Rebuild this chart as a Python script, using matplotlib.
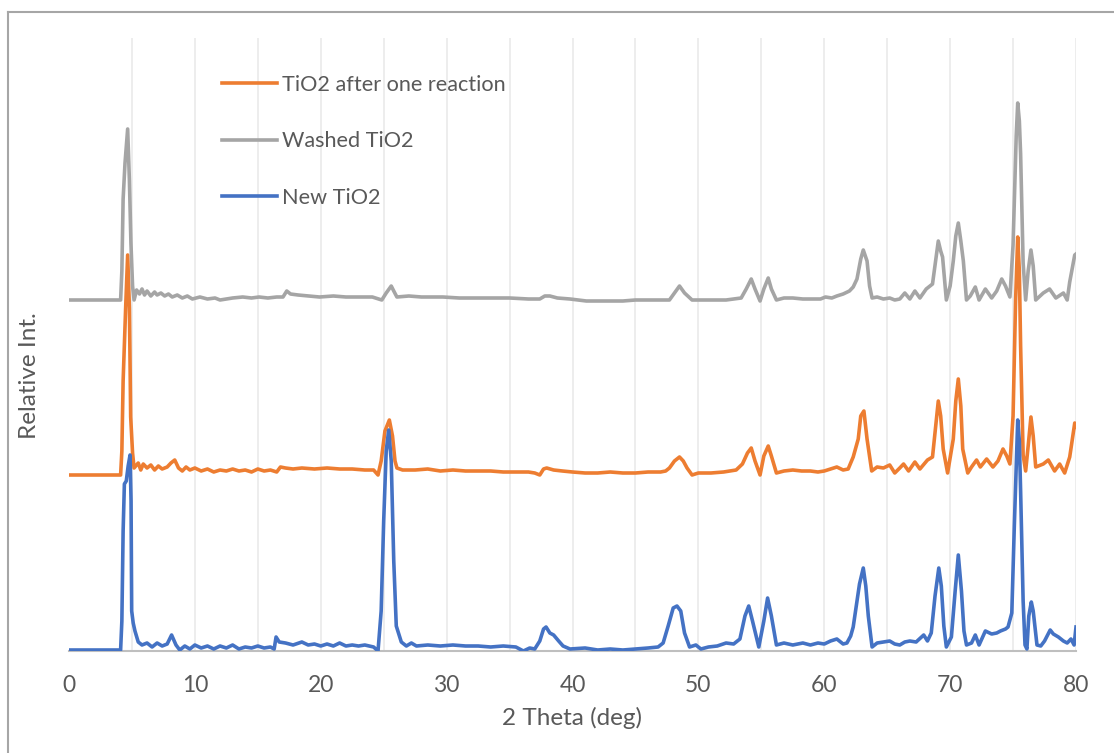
import matplotlib
matplotlib.use('Agg')
import matplotlib.pyplot as plt
from matplotlib.lines import Line2D

# XRD patterns, values (already stacked)
NEW_TIO2 = [
    (0, 1), (4.1, 1), (4.2, 30), (4.3, 120), (4.4, 167), (4.55, 170), (4.7, 185),
    (4.85, 196), (4.93, 150), (4.98, 40), (5.1, 28), (5.24, 20), (5.5, 9), (5.8, 6),
    (6.2, 8), (6.6, 4), (7.0, 8), (7.4, 5), (7.8, 7), (8.15, 16), (8.5, 6), (8.8, 1),
    (9.2, 5), (9.6, 2), (10.0, 6), (10.5, 3), (11.0, 5), (11.5, 2), (12.0, 5),
    (12.5, 3), (13.0, 6), (13.5, 2), (14.0, 4), (14.5, 3), (15.0, 5), (15.5, 3),
    (16.0, 4), (16.3, 2), (16.45, 14), (16.7, 9), (17.2, 8), (17.8, 6), (18.5, 9),
    (19.0, 6), (19.5, 7), (20.0, 5), (20.5, 7), (21.0, 5), (21.5, 8), (22.0, 5),
    (22.5, 6), (23.0, 5), (23.5, 6), (24.2, 4), (24.55, 0), (24.8, 40), (25.0, 130),
    (25.2, 200), (25.4, 221), (25.6, 190), (25.8, 90), (26.0, 25), (26.4, 9),
    (26.8, 5), (27.2, 8), (27.6, 5), (28.5, 6), (29.5, 5), (30.5, 6), (31.5, 5),
    (32.5, 5), (33.5, 4), (34.5, 5), (35.5, 4), (36.1, 0), (36.6, 3), (37.0, 2),
    (37.4, 10), (37.7, 22), (37.9, 24), (38.2, 18), (38.5, 16), (38.9, 10),
    (39.25, 5), (39.8, 2), (41.0, 3), (42.0, 1), (43.0, 2), (44.0, 1), (45.0, 2),
    (46.0, 3), (46.8, 4), (47.2, 8), (47.6, 25), (48.0, 43), (48.3, 45), (48.6, 40),
    (48.9, 18), (49.3, 4), (49.8, 6), (50.2, 2), (50.8, 4), (51.5, 5), (52.2, 8),
    (52.8, 7), (53.3, 12), (53.7, 35), (54.0, 45), (54.3, 30), (54.8, 4), (55.2, 30),
    (55.5, 53), (55.8, 35), (56.2, 6), (56.8, 8), (57.5, 6), (58.3, 8), (58.9, 6),
    (59.5, 8), (60.0, 7), (60.5, 10), (61.0, 12), (61.5, 7), (61.8, 8), (62.1, 15),
    (62.3, 24), (62.6, 50), (62.8, 67), (63.1, 83), (63.3, 65), (63.5, 35),
    (63.8, 4), (64.2, 8), (64.7, 9), (65.2, 10), (65.6, 7), (66.0, 6), (66.4, 9),
    (66.8, 10), (67.3, 9), (67.9, 16), (68.2, 10), (68.5, 18), (68.8, 55),
    (69.1, 83), (69.3, 65), (69.5, 25), (69.7, 4), (70.1, 14), (70.4, 60),
    (70.65, 96), (70.9, 60), (71.1, 20), (71.3, 6), (71.7, 8), (72.0, 16), (72.3, 6),
    (72.8, 20), (73.3, 17), (73.7, 18), (74.0, 20), (74.4, 22), (74.6, 24),
    (74.9, 38), (75.1, 125), (75.37, 231), (75.5, 210), (75.6, 160), (75.8, 50),
    (75.95, 6), (76.1, 2), (76.25, 35), (76.45, 49), (76.6, 40), (76.9, 6),
    (77.2, 5), (77.5, 10), (77.95, 21), (78.2, 17), (78.6, 14), (79.0, 10),
    (79.3, 8), (79.6, 12), (79.85, 6), (80.0, 24),
]

AFTER_REACTION = [
    (0, 176), (4.1, 176), (4.2, 200), (4.3, 270), (4.5, 343), (4.66, 396), (4.8, 343),
    (4.9, 234), (5.05, 198), (5.17, 183), (5.3, 185), (5.5, 188), (5.7, 181),
    (5.9, 187), (6.2, 183), (6.5, 186), (6.8, 181), (7.1, 185), (7.4, 182),
    (7.8, 184), (8.1, 188), (8.4, 191), (8.7, 183), (9.0, 180), (9.3, 184),
    (9.6, 181), (10.0, 183), (10.5, 180), (11.0, 182), (11.5, 179), (12.0, 181),
    (12.5, 180), (13.0, 182), (13.5, 180), (14.0, 181), (14.5, 179), (15.0, 182),
    (15.5, 180), (16.0, 181), (16.5, 179), (16.8, 184), (17.2, 183), (17.8, 182),
    (18.5, 183), (19.5, 182), (20.5, 183), (21.5, 182), (22.5, 182), (23.5, 181),
    (24.2, 181), (24.55, 176), (24.8, 190), (25.1, 220), (25.45, 231), (25.7, 215),
    (25.9, 190), (26.05, 183), (26.5, 181), (27.5, 181), (28.5, 182), (29.5, 180),
    (30.5, 181), (31.5, 180), (32.5, 180), (33.5, 180), (34.5, 179), (35.5, 179),
    (36.5, 179), (37.0, 178), (37.4, 176), (37.7, 182), (37.95, 183), (38.5, 181),
    (39.2, 180), (40.0, 179), (41.0, 178), (42.0, 178), (43.0, 179), (44.0, 178),
    (45.0, 178), (46.0, 179), (47.0, 179), (47.4, 180), (47.7, 183), (48.1, 190),
    (48.5, 194), (48.8, 190), (49.1, 183), (49.5, 176), (50.0, 178), (51.0, 178),
    (52.0, 179), (52.5, 180), (53.0, 181), (53.5, 187), (53.9, 198), (54.2, 203),
    (54.5, 190), (54.9, 176), (55.2, 195), (55.55, 205), (55.8, 195), (56.2, 178),
    (56.8, 180), (57.5, 181), (58.2, 180), (58.9, 180), (59.5, 179), (60.0, 180),
    (60.5, 182), (61.0, 184), (61.5, 181), (61.9, 182), (62.3, 194), (62.7, 212),
    (62.9, 235), (63.15, 240), (63.4, 212), (63.77, 180), (64.2, 184), (64.7, 183),
    (65.2, 186), (65.6, 178), (66.0, 183), (66.3, 187), (66.7, 180), (67.2, 189),
    (67.6, 182), (68.2, 191), (68.6, 194), (68.85, 225), (69.06, 250), (69.25, 235),
    (69.45, 202), (69.8, 178), (70.25, 212), (70.45, 250), (70.65, 272),
    (70.85, 245), (71.0, 202), (71.4, 178), (71.7, 184), (72.1, 191), (72.4, 184),
    (72.9, 192), (73.4, 184), (73.8, 190), (74.2, 202), (74.5, 195), (74.75, 187),
    (75.0, 235), (75.2, 350), (75.37, 414), (75.5, 380), (75.6, 305), (75.8, 196),
    (76.0, 180), (76.2, 205), (76.42, 234), (76.6, 215), (76.8, 184), (77.4, 187),
    (77.8, 191), (78.3, 180), (78.7, 187), (79.1, 178), (79.5, 194), (79.9, 228),
    (80.0, 224),
]

WASHED = [
    (0, 351), (4.1, 351), (4.2, 380), (4.3, 452), (4.45, 488), (4.66, 522),
    (4.8, 470), (4.92, 408), (5.05, 365), (5.17, 351), (5.37, 361), (5.6, 357),
    (5.8, 362), (6.0, 356), (6.2, 360), (6.5, 355), (6.8, 359), (7.0, 356),
    (7.3, 358), (7.6, 355), (7.9, 357), (8.2, 354), (8.6, 356), (9.0, 353),
    (9.4, 355), (9.8, 352), (10.4, 354), (11.0, 352), (11.6, 353), (12.0, 351),
    (12.5, 352), (13.0, 353), (13.8, 354), (14.5, 353), (15.1, 354), (15.8, 353),
    (16.5, 354), (17.0, 354), (17.3, 360), (17.6, 357), (18.2, 356), (19.1, 355),
    (19.9, 354), (21.0, 355), (22.0, 354), (23.1, 354), (24.1, 354), (24.85, 351),
    (25.2, 358), (25.6, 365), (25.8, 360), (26.05, 354), (27.0, 355), (28.0, 354),
    (29.7, 354), (31.0, 353), (33.0, 353), (35.0, 353), (36.5, 352), (37.4, 352),
    (37.8, 355), (38.2, 355), (38.8, 353), (39.8, 352), (41.1, 350), (42.5, 350),
    (44.0, 350), (45.0, 351), (46.5, 351), (47.7, 351), (48.1, 358), (48.5, 365),
    (48.9, 358), (49.5, 351), (50.5, 351), (51.5, 351), (52.2, 351), (52.8, 352),
    (53.4, 353), (53.8, 362), (54.2, 372), (54.5, 362), (54.9, 350), (55.2, 362),
    (55.55, 373), (55.8, 362), (56.2, 351), (56.8, 353), (57.5, 353), (58.3, 352),
    (58.9, 352), (59.7, 352), (60.1, 354), (60.6, 353), (61.0, 355), (61.5, 357),
    (62.0, 360), (62.3, 364), (62.6, 372), (62.9, 392), (63.1, 401), (63.4, 390),
    (63.6, 365), (63.8, 353), (64.2, 354), (64.7, 352), (65.2, 353), (65.6, 351),
    (66.0, 352), (66.4, 358), (66.8, 352), (67.2, 360), (67.6, 353), (68.1, 362),
    (68.6, 367), (68.85, 390), (69.06, 410), (69.25, 400), (69.4, 394), (69.7, 351),
    (70.0, 365), (70.25, 390), (70.45, 415), (70.65, 428), (70.85, 410),
    (71.05, 390), (71.3, 351), (71.6, 355), (72.0, 364), (72.3, 351), (72.8, 362),
    (73.3, 353), (73.7, 360), (74.1, 372), (74.4, 365), (74.75, 354), (75.0, 406),
    (75.25, 515), (75.37, 548), (75.5, 530), (75.6, 497), (75.8, 388), (76.0, 351),
    (76.2, 380), (76.42, 401), (76.6, 385), (76.8, 351), (77.4, 358), (77.9, 362),
    (78.4, 353), (79.0, 358), (79.3, 351), (79.5, 369), (79.9, 396), (80.0, 397),
]

LABELS = ["TiO2 after one reaction", "Washed TiO2", "New TiO2"]
COLORS = ["#ED7D31", "#A5A5A5", "#4472C4"]
X_TICKS = [0, 10, 20, 30, 40, 50, 60, 70, 80]

TEXT_COLOR = "#595959"
plt.rcParams['font.family'] = ['Lato', 'DejaVu Sans']

fig = plt.figure(figsize=(11.14, 7.53), dpi=100)
ax = fig.add_axes([69 / 1114, 1 - 651 / 753, 1007 / 1114, 613 / 753])

# chart border (left and top edges visible)
fig.add_artist(Line2D([8 / 1114, 8 / 1114], [0, 1 - 12 / 753],
                      transform=fig.transFigure, color="#a6a6a6", lw=1.5))
fig.add_artist(Line2D([8 / 1114, 1], [1 - 12 / 753, 1 - 12 / 753],
                      transform=fig.transFigure, color="#a6a6a6", lw=1.5))

for gx in range(5, 81, 5):
    ax.axvline(gx, color="#ececec", lw=1.3, zorder=0)

series = [AFTER_REACTION, WASHED, NEW_TIO2]
draw_order = [1, 0, 2]  # gray under orange under blue
handles = {}
for i in draw_order:
    xs = [p[0] for p in series[i]]
    ys = [p[1] for p in series[i]]
    ln, = ax.plot(xs, ys, color=COLORS[i], lw=2.6, label=LABELS[i],
                  solid_joinstyle="round", zorder=2 + i)
    handles[i] = ln

ax.set_xlim(0, 80)
ax.set_ylim(0, 613)
ax.set_xticks(X_TICKS)
ax.set_yticks([])
for side in ["top", "right", "left"]:
    ax.spines[side].set_visible(False)
ax.spines["bottom"].set_color("#bfbfbf")
ax.spines["bottom"].set_linewidth(1.5)
ax.tick_params(axis="x", length=0, pad=17, labelsize=16.5, labelcolor=TEXT_COLOR)

ax.set_xlabel("2 Theta (deg)", fontsize=17.5, color=TEXT_COLOR, labelpad=8)
ax.set_ylabel("Relative Int.", fontsize=17.5, color=TEXT_COLOR)
ax.yaxis.set_label_coords(-0.029, 0.45)

ax.legend([handles[0], handles[1], handles[2]], LABELS, loc="upper left",
          bbox_to_anchor=(0.152, 0.94), frameon=False, fontsize=15.6,
          labelcolor=TEXT_COLOR, handlelength=2.55, handletextpad=0.22,
          labelspacing=1.68, borderpad=0, borderaxespad=0)

fig.savefig("out.png", dpi=100)
